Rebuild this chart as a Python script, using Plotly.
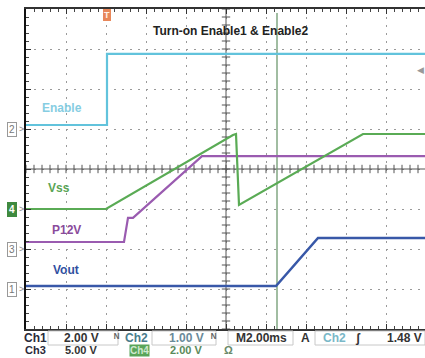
import numpy as np
import plotly.graph_objects as go

# ---- data (time in ms, 2 ms/div; voltages in V) ----
enable_t = [0, 4.05, 4.05, 20]
enable_v = [0.1, 0.1, 1.88, 1.88]
vss_t = [0, 4.0, 10.35, 10.5, 10.65, 16.85, 20]
vss_v = [0, 0, 3.7, 3.75, 0.2, 3.75, 3.75]
p12v_t = [0, 4.9, 5.1, 5.35, 8.8, 20]
p12v_v = [0.875, 0.875, 3.9, 3.9, 11.6, 11.6]
vout_t = [0, 12.5, 14.6, 20]
vout_v = [0.15, 0.15, 2.55, 2.55]

# channel scales (V/div) and ground positions (div)
ch_names = ["Vout", "Enable", "P12V", "Vss"]
ch_scale = [2.0, 1.0, 5.0, 2.0]
ch_ground = [1.0, 5.0, 2.0, 3.0]
time_per_div = 2.0
cursor_t = 12.55
trigger_t = 4.05
trigger_level = 1.48

W, H = 425, 358
ML, MT, MB = 26, 9, 29
PW, PH = W - ML, H - MT - MB


def px(x):
    return (x - ML) / PW


def py(y):
    return (H - MB - y) / PH


def to_div(v, idx):
    return [ch_ground[idx] + vv / ch_scale[idx] for vv in v]


fig = go.Figure()

# center crosshair with ticks
xt = np.arange(0, 20.01, 0.4)
fig.add_trace(go.Scatter(x=xt, y=[4] * len(xt), mode="lines+markers",
                         line=dict(color="#555", width=1),
                         marker=dict(symbol="line-ns", size=6, line=dict(color="#555", width=1)),
                         hoverinfo="skip", showlegend=False))
yt = np.arange(0, 8.01, 0.2)
fig.add_trace(go.Scatter(x=[10] * len(yt), y=yt, mode="lines+markers",
                         line=dict(color="#555", width=1),
                         marker=dict(symbol="line-ew", size=6, line=dict(color="#555", width=1)),
                         hoverinfo="skip", showlegend=False))

# cursor line
fig.add_trace(go.Scatter(x=[cursor_t, cursor_t], y=[0, 7.9], mode="lines",
                         line=dict(color="#6f9a70", width=1.3), showlegend=False))

colors = {"Enable": "#62c3dc", "Vss": "#5aab55", "P12V": "#9a5bb0", "Vout": "#3858a8"}
fig.add_trace(go.Scatter(x=enable_t, y=to_div(enable_v, 1), mode="lines",
                         line=dict(color=colors["Enable"], width=2.2), showlegend=False))
fig.add_trace(go.Scatter(x=p12v_t, y=to_div(p12v_v, 2), mode="lines",
                         line=dict(color=colors["P12V"], width=2.2), showlegend=False))
fig.add_trace(go.Scatter(x=vss_t, y=to_div(vss_v, 3), mode="lines",
                         line=dict(color=colors["Vss"], width=2.2), showlegend=False))
fig.add_trace(go.Scatter(x=vout_t, y=to_div(vout_v, 0), mode="lines",
                         line=dict(color=colors["Vout"], width=2.5), showlegend=False))

ann = []
lab_font = "Liberation Sans, Arial, sans-serif"
C = dict(xanchor="center", yanchor="middle", showarrow=False)
# title
ann.append(dict(x=px(230), y=py(31), xref="paper", yref="paper", text="<b>Turn-on Enable1 & Enable2</b>",
                font=dict(family=lab_font, size=12, color="#222"), **C))
# trace labels
for txt, cx, cy, col in [("Enable", 62, 108, "#86cde2"), ("Vss", 59, 188, "#5aa555"),
                         ("P12V", 66, 230, "#8a4b9c"), ("Vout", 66, 270, "#3050a0")]:
    ann.append(dict(x=px(cx), y=py(cy), xref="paper", yref="paper", text="<b>%s</b>" % txt,
                    font=dict(family=lab_font, size=12, color=col), **C))

# channel ground markers
for num, idx in [("2", 1), ("4", 3), ("3", 2), ("1", 0)]:
    yv = ch_ground[idx]
    if num == "4":
        ann.append(dict(x=px(12), y=yv, xref="paper", yref="y", text="<b>4</b>",
                        bgcolor="#3f8a3f", bordercolor="#3f8a3f", borderwidth=1, borderpad=1,
                        font=dict(family=lab_font, size=10, color="white"), **C))
    else:
        ann.append(dict(x=px(12), y=yv, xref="paper", yref="y", text=num,
                        bgcolor="white", bordercolor="#999", borderwidth=1, borderpad=1,
                        font=dict(family=lab_font, size=10, color="#777"), **C))
    ann.append(dict(x=px(21), y=yv, xref="paper", yref="y", text=">",
                    font=dict(family=lab_font, size=9, color="#888"), **C))

# trigger time marker
ann.append(dict(x=trigger_t, y=py(15), xref="x", yref="paper", text="<b>T</b>",
                bgcolor="#e8875a", bordercolor="#e8875a", borderpad=0,
                font=dict(family=lab_font, size=9, color="#fff3e8"), **C))
# trigger level marker
ann.append(dict(x=px(420), y=ch_ground[1] + trigger_level / ch_scale[1], xref="paper", yref="y",
                text="◀", font=dict(size=9, color="#999"), **C))

# status bar
r1, r2 = py(338), py(350)
bar = [
    ("Ch1", 35, r1, "#2a2a3a", 12), ("2.00 V", 81, r1, "#333", 12), ("ᴺ", 116, r1, "#666", 12),
    ("Ch2", 136, r1, "#4a7c8c", 12), ("1.00 V", 186, r1, "#6a8a9a", 12), ("ᴺ", 213, r1, "#666", 12),
    ("M2.00ms", 261, r1, "#333", 12), ("A", 305, r1, "#333", 12), ("Ch2", 334, r1, "#7ab8c8", 12),
    ("ʃ", 358, r1, "#333", 12), ("1.48 V", 404, r1, "#333", 12),
    ("Ch3", 35, r2, "#2a2a3a", 11), ("5.00 V", 81, r2, "#333", 11), ("2.00 V", 186, r2, "#5a8a5a", 11),
    ("Ω", 228, r2, "#6a8a6a", 11),
]
for txt, cx, cy, col, fs in bar:
    ann.append(dict(x=px(cx), y=cy, xref="paper", yref="paper", text="<b>%s</b>" % txt,
                    font=dict(family=lab_font, size=fs, color=col), **C))
ann.append(dict(x=px(139), y=r2, xref="paper", yref="paper", text="<b>Ch4</b>",
                bgcolor="#5aa55a", borderpad=0, font=dict(family=lab_font, size=10, color="#cfe8cf"), **C))

shapes = []
for x0, x1 in [(48, 118), (152, 216), (228, 293), (315, 425)]:
    shapes.append(dict(type="rect", xref="paper", yref="paper", x0=px(x0), x1=px(x1),
                       y0=py(345), y1=py(331), line=dict(color="#c8c8c8", width=1)))

fig.update_layout(
    width=W, height=H, margin=dict(l=ML, r=0, t=MT, b=MB),
    paper_bgcolor="white", plot_bgcolor="white",
    annotations=ann, shapes=shapes,
    xaxis=dict(range=[0, 20 * PW / 400], dtick=time_per_div, showticklabels=False,
               showgrid=True, gridcolor="#9a9a9a", griddash="2px,6px", gridwidth=1, zeroline=False,
               showline=True, linecolor="#333", linewidth=1.5, mirror="allticks",
               ticks="inside", ticklen=5, tickcolor="#333",
               minor=dict(dtick=0.4, ticks="inside", ticklen=3, tickcolor="#444")),
    yaxis=dict(range=[0, 8], dtick=1, showticklabels=False,
               showgrid=True, gridcolor="#9a9a9a", griddash="2px,6px", gridwidth=1, zeroline=False,
               showline=True, linecolor="#111", linewidth=2, mirror=False,
               ticks="inside", ticklen=5, tickcolor="#333",
               minor=dict(dtick=0.2, ticks="inside", ticklen=3, tickcolor="#444")),
)

fig.write_html("out.html", config={"displayModeBar": False},
               post_script="document.body.style.margin='0';document.body.style.padding='0';")
